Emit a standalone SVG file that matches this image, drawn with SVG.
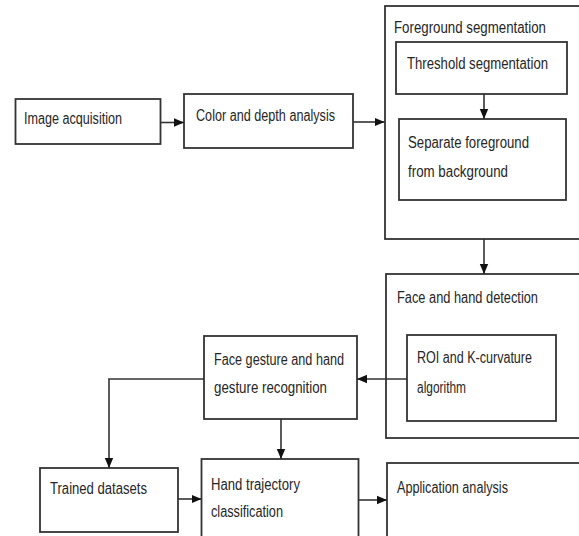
<svg xmlns="http://www.w3.org/2000/svg" width="579" height="536" viewBox="0 0 579 536">
<defs>
<marker id="ah" markerUnits="userSpaceOnUse" markerWidth="10" markerHeight="10" viewBox="0 0 10 10" refX="10" refY="5" orient="auto">
<path d="M0,0.8 L10,5 L0,9.2 Z" fill="#111"/>
</marker>
<style>
.box{fill:#fff;stroke:#333;stroke-width:1.8}
.cn{fill:none;stroke:#333;stroke-width:1.6}
.ar{marker-end:url(#ah)}
text{font-family:"Liberation Sans",Arial,sans-serif;font-size:16px;fill:#262626}
</style>
</defs>
<rect width="579" height="536" fill="#fff"/>

<g id="n-fgseg">
<rect class="box" x="385" y="6" width="210" height="233"/>
<text x="394" y="33" textLength="152" lengthAdjust="spacingAndGlyphs">Foreground segmentation</text>
</g>
<g id="n-threshold">
<rect class="box" x="396" y="42" width="171" height="52"/>
<text x="407" y="69" textLength="141" lengthAdjust="spacingAndGlyphs">Threshold segmentation</text>
</g>
<g id="n-separate">
<rect class="box" x="399" y="119" width="167" height="81"/>
<text x="408" y="148" textLength="121" lengthAdjust="spacingAndGlyphs">Separate foreground</text>
<text x="408" y="177" textLength="100" lengthAdjust="spacingAndGlyphs">from background</text>
</g>
<g id="n-image">
<rect class="box" x="15.5" y="99" width="145" height="45"/>
<text x="24" y="124" textLength="98" lengthAdjust="spacingAndGlyphs">Image acquisition</text>
</g>
<g id="n-color">
<rect class="box" x="184" y="94" width="169" height="54"/>
<text x="196" y="121" textLength="139" lengthAdjust="spacingAndGlyphs">Color and depth analysis</text>
</g>
<g id="n-facehand">
<rect class="box" x="386" y="274" width="210" height="164"/>
<text x="397" y="303" textLength="141" lengthAdjust="spacingAndGlyphs">Face and hand detection</text>
</g>
<g id="n-roi">
<rect class="box" x="407" y="335" width="149" height="86"/>
<text x="417" y="363" textLength="115" lengthAdjust="spacingAndGlyphs">ROI and K-curvature</text>
<text x="417" y="393" textLength="49" lengthAdjust="spacingAndGlyphs">algorithm</text>
</g>
<g id="n-gesture">
<rect class="box" x="204" y="336" width="153" height="83"/>
<text x="214" y="365" textLength="130" lengthAdjust="spacingAndGlyphs">Face gesture and hand</text>
<text x="214" y="393" textLength="113" lengthAdjust="spacingAndGlyphs">gesture recognition</text>
</g>
<g id="n-trained">
<rect class="box" x="40" y="468" width="138" height="64"/>
<text x="50" y="494" textLength="97" lengthAdjust="spacingAndGlyphs">Trained datasets</text>
</g>
<g id="n-hand">
<rect class="box" x="201.5" y="459" width="157" height="90"/>
<text x="211" y="490" textLength="89" lengthAdjust="spacingAndGlyphs">Hand trajectory</text>
<text x="211" y="517" textLength="72" lengthAdjust="spacingAndGlyphs">classification</text>
</g>
<g id="n-app">
<rect class="box" x="387" y="463" width="210" height="90"/>
<text x="397" y="493" textLength="111" lengthAdjust="spacingAndGlyphs">Application analysis</text>
</g>

<g id="connectors">
<path class="cn ar" d="M160.5,122.5 H184"/>
<path class="cn ar" d="M353,122 H384.5"/>
<path class="cn ar" d="M484,94 V119"/>
<path class="cn ar" d="M484,239 V274"/>
<path class="cn ar" d="M407,379 H357"/>
<path class="cn ar" d="M204,379 H109 V468"/>
<path class="cn ar" d="M281,419 V459"/>
<path class="cn ar" d="M178,499 H201.5"/>
<path class="cn ar" d="M358.5,500 H387"/>
</g>
</svg>
